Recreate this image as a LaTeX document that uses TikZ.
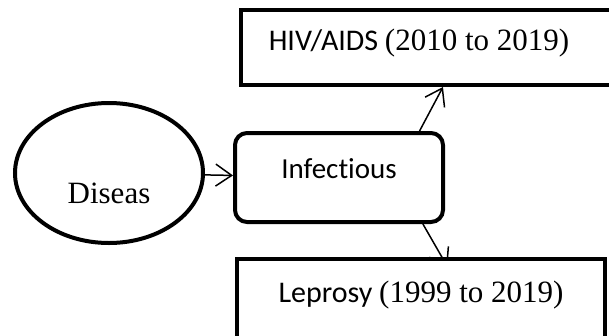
\documentclass[tikz,border=0pt]{standalone}
\usepackage{fontspec}
\setmainfont{Liberation Serif}
\newfontfamily\calfont[Ligatures=NoCommon]{Carlito}
\newcommand\yrs[1]{{\rmfamily\fontsize{31}{34}\selectfont #1}}
\usetikzlibrary{shapes.geometric,arrows.meta,backgrounds}

\begin{document}
\begin{tikzpicture}[
x=1pt,y=-1pt,
every node/.append style={font={\fontsize{30}{34}\selectfont}},
box/.style={draw,line width=4pt,inner sep=0pt,fill=white},
round/.style={box,rounded corners=12pt},
oval/.style={draw,ellipse,line width=4pt,inner sep=0pt},
link/.style={-{Straight Barb[length=16pt,width=22pt]},line width=1.5pt},
]
\useasboundingbox (0,0) rectangle (609,335);

\node[oval,minimum width=188pt,minimum height=140pt,text height=60pt,text depth=0pt]
  (disease) at (109,173) {\fontsize{31}{34}\selectfont Diseas};
\node[round,minimum width=208pt,minimum height=89pt,text height=18pt,text depth=17pt]
  (infect) at (339,177.5) {\calfont\fontsize{29}{34}\selectfont Infectious};
\node[box,minimum width=372pt,minimum height=75pt,text height=20pt,text depth=15pt]
  (hiv) at (427,47.5) {\calfont HIV/AIDS \yrs{(2010 to 2019)}\hspace*{16pt}};

\begin{pgfonlayer}{background}
\draw[link,shorten >=-9pt] (infect.-29) -- (443,259);
\end{pgfonlayer}
\node[box,minimum width=368pt,minimum height=80pt,text height=20pt,text depth=14pt]
  (leprosy) at (421,299) {\calfont Leprosy \yrs{(1999 to 2019)}};

\draw[link] (disease) -- (infect);
\draw[link] (infect.30) -- (hiv.-68);

\end{tikzpicture}
\end{document}
